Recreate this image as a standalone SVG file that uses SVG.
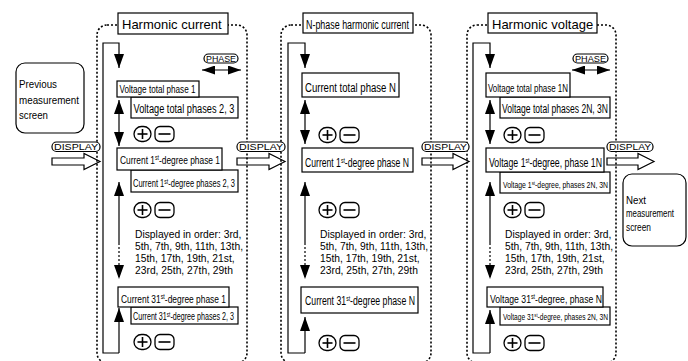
<svg xmlns="http://www.w3.org/2000/svg" width="688" height="361" viewBox="0 0 688 361">
  <style>
    text { font-family: "Liberation Sans", Arial, sans-serif; fill: #000; }
    .box { fill: #fff; stroke: #000; stroke-width: 1.2; }
    .frame { fill: none; stroke: #000; stroke-width: 1.6; stroke-dasharray: 2 2; }
    .ln { fill: none; stroke: #000; stroke-width: 1.2; }
    .dot { stroke-dasharray: 2 2; }
    .tag { fill: #fff; stroke: #000; stroke-width: 1.2; }
    .tagt { font-size: 9px; }
    .hollow { fill: none; stroke: #000; stroke-width: 1.2; stroke-linejoin: miter; }
    .key { fill: #fff; stroke: #000; stroke-width: 1.3; }
    .keyl { stroke: #000; stroke-width: 1.6; }
    .title { font-size: 13px; }
    .note { font-size: 10.3px; }
    .scr { font-size: 11px; }
  </style>
  <defs>
    <marker id="head" markerUnits="userSpaceOnUse" markerWidth="14" markerHeight="10" refX="14" refY="5" orient="auto-start-reverse">
      <path d="M0,0 L14,5 L0,10 z" fill="#000"/>
    </marker>
    <marker id="phead" markerUnits="userSpaceOnUse" markerWidth="13" markerHeight="9" refX="13" refY="4.5" orient="auto-start-reverse">
      <path d="M0,0 L13,4.5 L0,9 z" fill="#000"/>
    </marker>
    <!-- plus / minus key pair -->
    <g id="keys">
      <rect class="key" x="0" y="-7.5" width="17" height="15" rx="7.5"/>
      <line class="keyl" x1="3.5" y1="0" x2="13.5" y2="0"/>
      <line class="keyl" x1="8.5" y1="-5" x2="8.5" y2="5"/>
      <rect class="key" x="21" y="-7.5" width="19" height="15" rx="5"/>
      <line class="keyl" x1="24.5" y1="0" x2="36.5" y2="0"/>
    </g>
  </defs>

  <!-- DISPLAY transition arrows -->
  <g id="connectors">
    <polygon class="hollow" points="52,158 84,158 84,153.5 100,161.5 84,169.5 84,165 52,165"/>
    <polygon class="hollow" points="237,158 269,158 269,153.5 285,161.5 269,169.5 269,165 237,165"/>
    <polygon class="hollow" points="422,158 453,158 453,153.5 469,161.5 453,169.5 453,165 422,165"/>
    <polygon class="hollow" points="607,158 638,158 638,153.5 654,161.5 638,169.5 638,165 607,165"/>

    <!-- panel 1 flow -->
    <polyline class="ln" points="119,353 103,353 103,43 119,43 119,68" marker-end="url(#head)"/>
    <line class="ln" x1="119" y1="100" x2="119" y2="146" marker-start="url(#head)" marker-end="url(#head)"/>
    <line class="ln" x1="119" y1="182" x2="119" y2="243" marker-start="url(#head)"/>
    <line class="ln dot" x1="119" y1="243" x2="119" y2="279" marker-end="url(#head)"/>
    <line class="ln" x1="119" y1="353" x2="119" y2="308" marker-end="url(#head)"/>
    <line class="ln" x1="202" y1="70" x2="241" y2="70" marker-start="url(#phead)" marker-end="url(#phead)"/>

    <!-- panel 2 flow -->
    <polyline class="ln" points="305,353 288,353 288,43 305,43 305,68" marker-end="url(#head)"/>
    <line class="ln" x1="305" y1="100" x2="305" y2="144" marker-start="url(#head)" marker-end="url(#head)"/>
    <line class="ln" x1="305" y1="182" x2="305" y2="243" marker-start="url(#head)"/>
    <line class="ln dot" x1="305" y1="243" x2="305" y2="279" marker-end="url(#head)"/>
    <line class="ln" x1="305" y1="353" x2="305" y2="317" marker-end="url(#head)"/>

    <!-- panel 3 flow -->
    <polyline class="ln" points="490,353 473,353 473,43 490,43 490,68" marker-end="url(#head)"/>
    <line class="ln" x1="490" y1="100" x2="490" y2="144" marker-start="url(#head)" marker-end="url(#head)"/>
    <line class="ln" x1="490" y1="182" x2="490" y2="243" marker-start="url(#head)"/>
    <line class="ln dot" x1="490" y1="243" x2="490" y2="279" marker-end="url(#head)"/>
    <line class="ln" x1="490" y1="353" x2="490" y2="310" marker-end="url(#head)"/>
    <line class="ln" x1="572" y1="70" x2="610" y2="70" marker-start="url(#phead)" marker-end="url(#phead)"/>
  </g>

  <!-- mode frames -->
  <rect class="frame" x="97" y="25" width="150" height="338" rx="10"/>
  <rect class="frame" x="281" y="25" width="150" height="338" rx="10"/>
  <rect class="frame" x="467" y="25" width="149" height="338" rx="10"/>

  <!-- key labels -->
  <g id="tags">
    <rect class="tag" x="52" y="142" width="48" height="9.5" rx="4.5"/>
    <text class="tagt" x="54" y="150.3" textLength="44" lengthAdjust="spacingAndGlyphs">DISPLAY</text>
    <rect class="tag" x="237" y="142" width="48" height="9.5" rx="4.5"/>
    <text class="tagt" x="239" y="150.3" textLength="44" lengthAdjust="spacingAndGlyphs">DISPLAY</text>
    <rect class="tag" x="422" y="142" width="47" height="9.5" rx="4.5"/>
    <text class="tagt" x="424" y="150.3" textLength="43" lengthAdjust="spacingAndGlyphs">DISPLAY</text>
    <rect class="tag" x="607" y="142" width="46" height="9.5" rx="4.5"/>
    <text class="tagt" x="609" y="150.3" textLength="42" lengthAdjust="spacingAndGlyphs">DISPLAY</text>
    <rect class="tag" x="204" y="54" width="34" height="9" rx="4.5"/>
    <text class="tagt" x="206" y="62" textLength="30" lengthAdjust="spacingAndGlyphs">PHASE</text>
    <rect class="tag" x="573" y="54" width="35" height="9" rx="4.5"/>
    <text class="tagt" x="575" y="62" textLength="31" lengthAdjust="spacingAndGlyphs">PHASE</text>
  </g>

  <!-- outside screens -->
  <g id="prev-screen">
    <rect class="box" x="16" y="63" width="68" height="70" rx="9"/>
    <text class="scr" font-size="12" x="19" y="88" textLength="38" lengthAdjust="spacingAndGlyphs">Previous</text>
    <text class="scr" font-size="12" x="19" y="104" textLength="60" lengthAdjust="spacingAndGlyphs">measurement</text>
    <text class="scr" font-size="12" x="19" y="119" textLength="29" lengthAdjust="spacingAndGlyphs">screen</text>
  </g>
  <g id="next-screen">
    <rect class="box" x="623" y="174" width="63" height="72" rx="9"/>
    <text class="scr" style="font-size:10px" x="626" y="204" textLength="20" lengthAdjust="spacingAndGlyphs">Next</text>
    <text class="scr" style="font-size:10px" x="626" y="217" textLength="48" lengthAdjust="spacingAndGlyphs">measurement</text>
    <text class="scr" style="font-size:10px" x="626" y="231" textLength="25" lengthAdjust="spacingAndGlyphs">screen</text>
  </g>

  <!-- Harmonic current -->
  <g id="harmonic-current">
    <rect class="box" x="118" y="13" width="110" height="21"/>
    <text class="title" x="122" y="29">Harmonic current</text>

    <rect class="box" x="131" y="97" width="107" height="21"/>
    <text font-size="12" x="133.5" y="113" textLength="101" lengthAdjust="spacingAndGlyphs">Voltage total phases 2, 3</text>
    <rect class="box" x="117" y="81" width="82" height="16"/>
    <text font-size="11" x="119.5" y="93" textLength="76" lengthAdjust="spacingAndGlyphs">Voltage total phase 1</text>
    <use href="#keys" x="134" y="134"/>

    <rect class="box" x="131" y="170" width="107" height="22"/>
    <text font-size="10.5" x="133" y="187" textLength="102" lengthAdjust="spacingAndGlyphs">Current 1<tspan font-size="7" dy="-3.5">st</tspan><tspan dy="3.5">-degree phases 2, 3</tspan></text>
    <rect class="box" x="117" y="148" width="105" height="22"/>
    <text font-size="11.5" x="120" y="164" textLength="100" lengthAdjust="spacingAndGlyphs">Current 1<tspan font-size="7" dy="-4">st</tspan><tspan dy="4">-degree phase 1</tspan></text>
    <use href="#keys" x="134" y="210"/>

    <text class="note" x="135" y="238">Displayed in order: 3rd,</text>
    <text class="note" x="135" y="250">5th, 7th, 9th, 11th, 13th,</text>
    <text class="note" x="135" y="262">15th, 17th, 19th, 21st,</text>
    <text class="note" x="135" y="274">23rd, 25th, 27th, 29th</text>

    <rect class="box" x="131" y="307" width="107" height="17"/>
    <text font-size="10" x="133" y="320" textLength="101" lengthAdjust="spacingAndGlyphs">Current 31<tspan font-size="6.5" dy="-3.5">st</tspan><tspan dy="3.5">-degree phases 2, 3</tspan></text>
    <rect class="box" x="118" y="287" width="111" height="20"/>
    <text font-size="11" x="121" y="303" textLength="105" lengthAdjust="spacingAndGlyphs">Current 31<tspan font-size="7" dy="-4">st</tspan><tspan dy="4">-degree phase 1</tspan></text>
    <use href="#keys" x="134" y="342"/>
  </g>

  <!-- N-phase harmonic current -->
  <g id="n-phase-current">
    <rect class="box" x="303" y="13" width="110" height="20"/>
    <text font-size="12" x="306" y="28.5" textLength="103" lengthAdjust="spacingAndGlyphs">N-phase harmonic current</text>

    <rect class="box" x="302" y="73" width="97" height="24"/>
    <text font-size="12.5" x="305" y="91.5" textLength="91" lengthAdjust="spacingAndGlyphs">Current total phase N</text>
    <use href="#keys" x="319" y="135"/>

    <rect class="box" x="302" y="148" width="111" height="24"/>
    <text font-size="12" x="305" y="166.5" textLength="104" lengthAdjust="spacingAndGlyphs">Current 1<tspan font-size="7" dy="-4">st</tspan><tspan dy="4">-degree phase N</tspan></text>
    <use href="#keys" x="319" y="210"/>

    <text class="note" x="320" y="238">Displayed in order: 3rd,</text>
    <text class="note" x="320" y="250">5th, 7th, 9th, 11th, 13th,</text>
    <text class="note" x="320" y="262">15th, 17th, 19th, 21st,</text>
    <text class="note" x="320" y="274">23rd, 25th, 27th, 29th</text>

    <rect class="box" x="301" y="287" width="117" height="26"/>
    <text font-size="12" x="305" y="305" textLength="110" lengthAdjust="spacingAndGlyphs">Current 31<tspan font-size="7" dy="-4">st</tspan><tspan dy="4">-degree phase N</tspan></text>
    <use href="#keys" x="319" y="343"/>
  </g>

  <!-- Harmonic voltage -->
  <g id="harmonic-voltage">
    <rect class="box" x="488" y="13" width="109" height="20"/>
    <text class="title" x="492" y="28.5">Harmonic voltage</text>

    <rect class="box" x="500" y="97" width="110" height="21"/>
    <text font-size="12" x="502" y="113" textLength="106" lengthAdjust="spacingAndGlyphs">Voltage total phases 2N, 3N</text>
    <rect class="box" x="486" y="73" width="84" height="24"/>
    <text font-size="11.5" x="488" y="92" textLength="80" lengthAdjust="spacingAndGlyphs">Voltage total phase 1N</text>
    <use href="#keys" x="504" y="135"/>

    <rect class="box" x="500" y="172" width="110" height="21"/>
    <text font-size="9.5" x="503" y="188" textLength="105" lengthAdjust="spacingAndGlyphs">Voltage 1<tspan font-size="6" dy="-3">st</tspan><tspan dy="3">-degree, phases 2N, 3N</tspan></text>
    <rect class="box" x="486" y="148" width="118" height="24"/>
    <text font-size="12" x="489" y="167" textLength="113" lengthAdjust="spacingAndGlyphs">Voltage 1<tspan font-size="7" dy="-4">st</tspan><tspan dy="4">-degree, phase 1N</tspan></text>
    <use href="#keys" x="504" y="210"/>

    <text class="note" x="505" y="238">Displayed in order: 3rd,</text>
    <text class="note" x="505" y="250">5th, 7th, 9th, 11th, 13th,</text>
    <text class="note" x="505" y="262">15th, 17th, 19th, 21st,</text>
    <text class="note" x="505" y="274">23rd, 25th, 27th, 29th</text>

    <rect class="box" x="500" y="307" width="110" height="18"/>
    <text font-size="9.5" x="503" y="320" textLength="105" lengthAdjust="spacingAndGlyphs">Voltage 31<tspan font-size="6" dy="-3">st</tspan><tspan dy="3">-degree, phases 2N, 3N</tspan></text>
    <rect class="box" x="487" y="287" width="116" height="20"/>
    <text font-size="11.5" x="490" y="302.5" textLength="112" lengthAdjust="spacingAndGlyphs">Voltage 31<tspan font-size="7" dy="-4">st</tspan><tspan dy="4">-degree, phase N</tspan></text>
    <use href="#keys" x="504" y="343"/>
  </g>
</svg>
